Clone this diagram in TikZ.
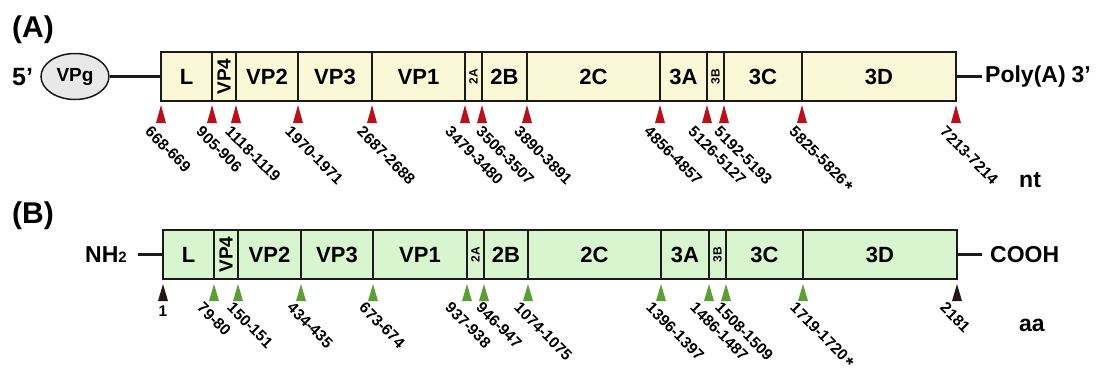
\documentclass[tikz,border=0pt]{standalone}
\usepackage{fontspec}
\setmainfont{Liberation Sans}
\usepackage{graphicx}
\usetikzlibrary{shapes.geometric}
\definecolor{fillA}{HTML}{FBF8D8}
\definecolor{fillB}{HTML}{D9F5D0}
\definecolor{triR}{HTML}{B5121B}
\definecolor{triG}{HTML}{5A9E35}
\definecolor{triK}{HTML}{231815}
\definecolor{ink}{HTML}{1A1A1A}
\definecolor{vpgfill}{HTML}{E8E8E8}
\newcommand{\fs}[1]{\fontsize{#1}{#1}\selectfont}
\newcommand{\rotlbl}[2]{\rotatebox{90}{\fs{#1}#2}}
\newcommand{\starmark}{\hspace{2pt}\raisebox{-3.5pt}{\fs{19}*}}
\begin{document}
\begin{tikzpicture}[x=1pt,y=-1pt,
  segbox/.style={draw=ink, line width=1.8pt, minimum height=49pt, inner sep=0pt, font=\bfseries\fs{22}},
  segA/.style={segbox, fill=fillA},
  segB/.style={segbox, fill=fillB},
  numlbl/.style={font=\bfseries\fs{15.5}, inner sep=0pt, anchor=north west, rotate=-45},
  sidelbl/.style={font=\bfseries\fs{23}, inner sep=0pt},
  conn/.style={line width=2.8pt, draw=ink}]
\useasboundingbox (0,0) rectangle (1101,367);

% ---------- panel A ----------
\node[font=\bfseries\fs{30}, anchor=west, inner sep=0pt] (pA) at (12,30) {(A)};
\foreach \a/\b/\t/\n in {161/212/L/L, 212/236/\rotlbl{19}{VP4}/VP4, 236/298/VP2/VP2, 298/372/VP3/VP3,
  372/465/VP1/VP1, 465/482/\rotlbl{12}{2A}/2A, 482/527/2B/2B, 527/660/2C/2C, 660/707/3A/3A,
  707/724/\rotlbl{12}{3B}/3B, 724/802/3C/3C, 802/956/3D/3D}{
  \pgfmathsetmacro{\w}{\b-\a}
  \pgfmathsetmacro{\c}{(\a+\b)/2}
  \node[segA, minimum width=\w pt] (A\n) at (\c,76.5) {\t};
}
\node[draw=ink, line width=1.5pt, fill=vpgfill, ellipse, minimum width=68pt, minimum height=46pt,
  inner sep=0pt, font=\bfseries\fs{19}] (vpg) at (75,76.5) {VPg};
\node[font=\bfseries\fs{25}, anchor=west, inner sep=0pt] (five) at (12,77) {5’};
\draw[conn] (vpg.east) -- (AL.west);
\node[sidelbl, anchor=west, inner xsep=3pt] (polyA) at (982,77) {Poly(A)\hspace{6pt}3’};
\draw[conn] (A3D.east) -- (A3D.east -| polyA.west);
\node[sidelbl, anchor=west] (nt) at (1019,180) {nt};

\foreach \x in {161,212,236,298,372,465,482,527,660,707,724,802,956}
  \fill[triR] (\x,105) -- (\x+5,123) -- (\x-5,123) -- cycle;
\foreach \x/\t in {152/668-669, 203/905-906, 232/1118-1119, 292/1970-1971, 364/2687-2688,
  452/3479-3480, 483/3506-3507, 521/3890-3891, 651/4856-4857, 695/5126-5127, 721/5192-5193,
  796/5825-5826\starmark, 947/7213-7214}
  \node[numlbl] (nA\x) at (\x,125) {\t};

% ---------- panel B ----------
\node[font=\bfseries\fs{30}, anchor=west, inner sep=0pt] (pB) at (12,216) {(B)};
\foreach \a/\b/\t/\n in {163/214/L/L, 214/238/\rotlbl{19}{VP4}/VP4, 238/301/VP2/VP2, 301/373/VP3/VP3,
  373/467/VP1/VP1, 467/484/\rotlbl{12}{2A}/2A, 484/528/2B/2B, 528/661/2C/2C, 661/709/3A/3A,
  709/726/\rotlbl{12}{3B}/3B, 726/803/3C/3C, 803/957/3D/3D}{
  \pgfmathsetmacro{\w}{\b-\a}
  \pgfmathsetmacro{\c}{(\a+\b)/2}
  \node[segB, minimum width=\w pt] (B\n) at (\c,254.5) {\t};
}
\node[sidelbl, anchor=east, inner xsep=11pt] (nh) at (138,254.5) {NH{\fs{15}2}};
\draw[conn] (nh.east) -- (BL.west);
\node[sidelbl, anchor=west, inner xsep=8pt] (cooh) at (982,254.5) {COOH};
\draw[conn] (B3D.east) -- (cooh.west);
\node[sidelbl, anchor=west] (aa) at (1019,325) {aa};

\foreach \x in {214,238,301,373,467,484,528,661,709,726,803}
  \fill[triG] (\x,284) -- (\x+5,301) -- (\x-5,301) -- cycle;
\foreach \x in {163,957}
  \fill[triK] (\x,284) -- (\x+5,301) -- (\x-5,301) -- cycle;
\node[font=\bfseries\fs{15.5}, anchor=north, inner sep=0pt] (n1) at (163,306) {1};
\foreach \x/\t in {204/79-80, 234/150-151, 294/434-435, 366/673-674, 452/937-938, 483/946-947,
  521/1074-1075, 653/1396-1397, 697/1486-1487, 722/1508-1509, 797/1719-1720\starmark, 947/2181}
  \node[numlbl] (nB\x) at (\x,301) {\t};
\end{tikzpicture}
\end{document}
